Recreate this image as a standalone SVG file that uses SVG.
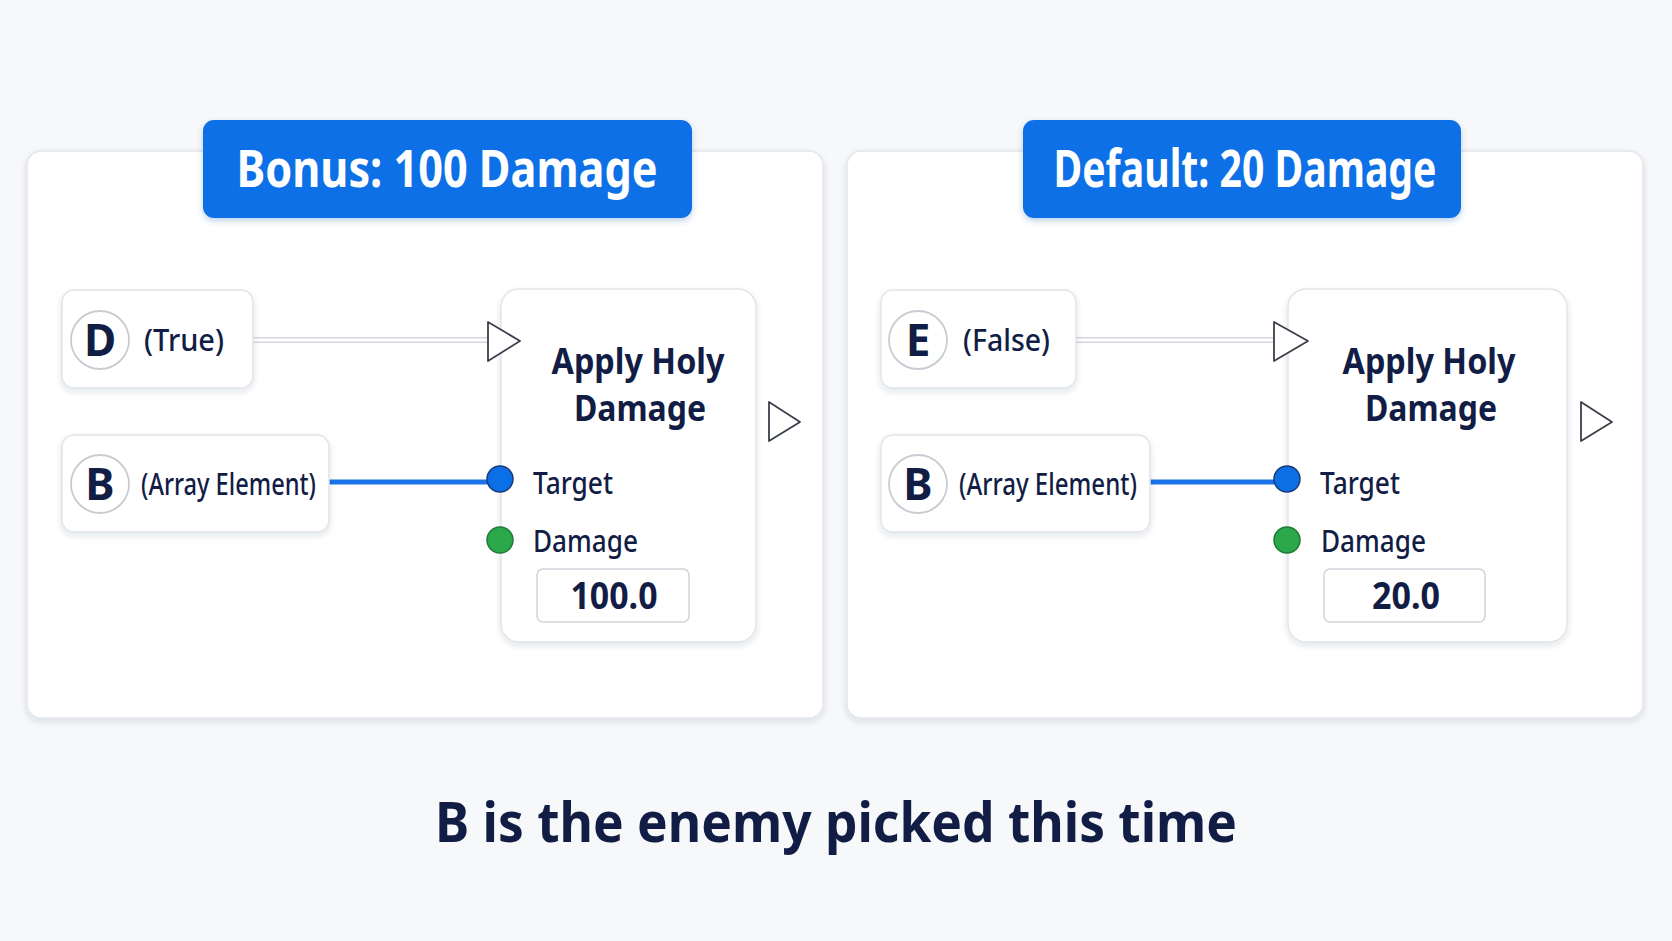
<svg xmlns="http://www.w3.org/2000/svg" width="1672" height="941" viewBox="0 0 1672 941">
<defs>
<filter id="sh" x="-10%" y="-10%" width="120%" height="130%"><feDropShadow dx="0" dy="3" stdDeviation="3" flood-color="#1e2a4a" flood-opacity="0.12"/></filter>
<filter id="shb" x="-10%" y="-10%" width="120%" height="130%"><feDropShadow dx="0" dy="3" stdDeviation="3" flood-color="#0b4fa8" flood-opacity="0.25"/></filter>
<style>
.bg{fill:#f7f8fa}
.panel{fill:#ffffff;stroke:#e3e6eb;stroke-width:1.5}
.badge{fill:#0b6fe6}
.badgeT{fill:#ffffff;font-family:"Noto Sans","Liberation Sans",sans-serif;font-weight:700;font-size:52px;text-anchor:middle}
.card{fill:#ffffff;stroke:#e1e4e9;stroke-width:1.5}
.circ{fill:#ffffff;stroke:#c9ccd2;stroke-width:1.8}
.letter{fill:#121d45;font-family:"Noto Sans","Liberation Sans",sans-serif;font-weight:700;font-size:44px;text-anchor:middle}
.lbl{fill:#121d45;font-family:"Noto Sans","Liberation Sans",sans-serif;font-weight:500;font-size:30px}
.title{fill:#121d45;font-family:"Noto Sans","Liberation Sans",sans-serif;font-weight:700;font-size:35px;text-anchor:middle}
.pinT{fill:#121d45;font-family:"Noto Sans","Liberation Sans",sans-serif;font-weight:500;font-size:30px}
.valbox{fill:#ffffff;stroke:#cfd3d9;stroke-width:1.5}
.val{fill:#121d45;font-family:"Noto Sans","Liberation Sans",sans-serif;font-weight:700;font-size:38px;text-anchor:middle}
.exec{fill:#ffffff;stroke:#3a3f4a;stroke-width:1.8;stroke-linejoin:round}
.pipeO{stroke:#d3d6dc;stroke-width:6;fill:none}
.pipeI{stroke:#ffffff;stroke-width:3;fill:none}
.wire{stroke:#1a73e8;stroke-width:5;fill:none}
.pinB{fill:#0b6fe6;stroke:#1d3a7a;stroke-width:1.5}
.pinG{fill:#2aa84a;stroke:#1f7a37;stroke-width:1.5}
.cap{fill:#121d45;font-family:"Noto Sans","Liberation Sans",sans-serif;font-weight:700;font-size:56px;text-anchor:middle}
</style>
</defs>
<rect class="bg" x="0" y="0" width="1672" height="941"/>

<g id="panel-left">
<rect class="panel" x="27" y="151" width="796" height="567" rx="14" filter="url(#sh)"/>
</g>
<g id="panel-right">
<rect class="panel" x="847" y="151" width="796" height="567" rx="14" filter="url(#sh)"/>
</g>

<g id="badge-left">
<rect class="badge" x="203" y="120" width="489" height="98" rx="11" filter="url(#shb)"/>
<text class="badgeT" x="447" y="187" textLength="421" lengthAdjust="spacingAndGlyphs">Bonus: 100 Damage</text>
</g>
<g id="badge-right">
<rect class="badge" x="1023" y="120" width="438" height="98" rx="11" filter="url(#shb)"/>
<text class="badgeT" x="1245" y="187" textLength="383" lengthAdjust="spacingAndGlyphs">Default: 20 Damage</text>
</g>

<g id="connectors">
<line class="pipeO" x1="253" y1="340" x2="488" y2="340"/>
<line class="pipeI" x1="253" y1="340" x2="488" y2="340"/>
<line class="wire" x1="329" y1="482" x2="500" y2="482"/>
<line class="pipeO" x1="1076" y1="340" x2="1275" y2="340"/>
<line class="pipeI" x1="1076" y1="340" x2="1275" y2="340"/>
<line class="wire" x1="1150" y1="482" x2="1287" y2="482"/>
</g>

<g id="node-D">
<rect class="card" x="62" y="290" width="191" height="98" rx="12" filter="url(#sh)"/>
<circle class="circ" cx="100" cy="340" r="29"/>
<text class="letter" x="100" y="356">D</text>
<text class="lbl" x="144" y="351" textLength="80" lengthAdjust="spacingAndGlyphs">(True)</text>
</g>

<g id="node-B-left">
<rect class="card" x="62" y="435" width="267" height="97" rx="12" filter="url(#sh)"/>
<circle class="circ" cx="100" cy="484" r="29"/>
<text class="letter" x="100" y="500">B</text>
<text class="lbl" x="141" y="495" textLength="175" lengthAdjust="spacingAndGlyphs">(Array Element)</text>
</g>

<g id="node-apply-left">
<rect class="card" x="501" y="289" width="255" height="353" rx="18" filter="url(#sh)"/>
<text class="title" x="638" y="374" textLength="173" lengthAdjust="spacingAndGlyphs">Apply Holy</text>
<text class="title" x="640" y="421" textLength="132" lengthAdjust="spacingAndGlyphs">Damage</text>
<path class="exec" d="M488 322 L520 341 L488 361 Z"/>
<path class="exec" d="M769 402 L800 422 L769 441 Z"/>
<circle class="pinB" cx="500" cy="479" r="13"/>
<text class="pinT" x="533" y="494" textLength="80" lengthAdjust="spacingAndGlyphs">Target</text>
<circle class="pinG" cx="500" cy="540" r="13"/>
<text class="pinT" x="533" y="552" textLength="105" lengthAdjust="spacingAndGlyphs">Damage</text>
<rect class="valbox" x="537" y="569" width="152" height="53" rx="6"/>
<text class="val" x="614" y="609" textLength="87" lengthAdjust="spacingAndGlyphs">100.0</text>
</g>

<g id="node-E">
<rect class="card" x="881" y="290" width="195" height="98" rx="12" filter="url(#sh)"/>
<circle class="circ" cx="918" cy="340" r="29"/>
<text class="letter" x="918" y="356">E</text>
<text class="lbl" x="963" y="351" textLength="87" lengthAdjust="spacingAndGlyphs">(False)</text>
</g>

<g id="node-B-right">
<rect class="card" x="881" y="435" width="269" height="97" rx="12" filter="url(#sh)"/>
<circle class="circ" cx="918" cy="484" r="29"/>
<text class="letter" x="918" y="500">B</text>
<text class="lbl" x="959" y="495" textLength="178" lengthAdjust="spacingAndGlyphs">(Array Element)</text>
</g>

<g id="node-apply-right">
<rect class="card" x="1288" y="289" width="279" height="353" rx="18" filter="url(#sh)"/>
<text class="title" x="1429" y="374" textLength="173" lengthAdjust="spacingAndGlyphs">Apply Holy</text>
<text class="title" x="1431" y="421" textLength="132" lengthAdjust="spacingAndGlyphs">Damage</text>
<path class="exec" d="M1274 322 L1308 341 L1274 361 Z"/>
<path class="exec" d="M1581 402 L1612 422 L1581 441 Z"/>
<circle class="pinB" cx="1287" cy="479" r="13"/>
<text class="pinT" x="1320" y="494" textLength="80" lengthAdjust="spacingAndGlyphs">Target</text>
<circle class="pinG" cx="1287" cy="540" r="13"/>
<text class="pinT" x="1321" y="552" textLength="105" lengthAdjust="spacingAndGlyphs">Damage</text>
<rect class="valbox" x="1324" y="569" width="161" height="53" rx="6"/>
<text class="val" x="1406" y="609" textLength="68" lengthAdjust="spacingAndGlyphs">20.0</text>
</g>

<g id="caption">
<text class="cap" x="836" y="842" textLength="802" lengthAdjust="spacingAndGlyphs">B is the enemy picked this time</text>
</g>
</svg>
